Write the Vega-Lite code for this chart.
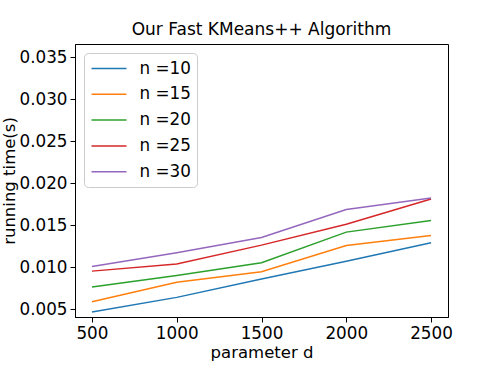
{
  "$schema": "https://vega.github.io/schema/vega-lite/v6.json",
  "width": 373,
  "height": 273,
  "autosize": {"type": "none"},
  "padding": {"left": 75, "top": 44, "right": 50, "bottom": 57},
  "background": "white",
  "config": {
    "font": "DejaVu Sans",
    "view": {"stroke": "black", "strokeWidth": 1},
    "axis": {"grid": false, "domainColor": "black", "tickColor": "black", "labelColor": "black", "titleColor": "black", "labelFontSize": 16.8, "titleFontSize": 16.5, "titleFontWeight": "normal", "tickSize": 5, "labelPadding": 3, "labelFont": "DejaVu Sans", "titleFont": "DejaVu Sans"}
  },
  "title": {"text": "Our Fast KMeans++ Algorithm", "fontSize": 17, "fontWeight": "normal", "font": "DejaVu Sans", "offset": 5, "color": "black"},
  "data": {"values": [
    {"d": 500, "n": "n =10", "t": 0.00464},
    {"d": 1000, "n": "n =10", "t": 0.00639},
    {"d": 1500, "n": "n =10", "t": 0.00857},
    {"d": 2000, "n": "n =10", "t": 0.01071},
    {"d": 2500, "n": "n =10", "t": 0.01289},
    {"d": 500, "n": "n =15", "t": 0.00587},
    {"d": 1000, "n": "n =15", "t": 0.00818},
    {"d": 1500, "n": "n =15", "t": 0.00944},
    {"d": 2000, "n": "n =15", "t": 0.01258},
    {"d": 2500, "n": "n =15", "t": 0.01377},
    {"d": 500, "n": "n =20", "t": 0.00762},
    {"d": 1000, "n": "n =20", "t": 0.00901},
    {"d": 1500, "n": "n =20", "t": 0.01051},
    {"d": 2000, "n": "n =20", "t": 0.01417},
    {"d": 2500, "n": "n =20", "t": 0.01556},
    {"d": 500, "n": "n =25", "t": 0.00952},
    {"d": 1000, "n": "n =25", "t": 0.01036},
    {"d": 1500, "n": "n =25", "t": 0.01262},
    {"d": 2000, "n": "n =25", "t": 0.01512},
    {"d": 2500, "n": "n =25", "t": 0.01813},
    {"d": 500, "n": "n =30", "t": 0.01008},
    {"d": 1000, "n": "n =30", "t": 0.0117},
    {"d": 1500, "n": "n =30", "t": 0.01354},
    {"d": 2000, "n": "n =30", "t": 0.01687},
    {"d": 2500, "n": "n =30", "t": 0.01825}
  ]},
  "mark": {"type": "line", "strokeWidth": 1.5, "clip": true},
  "encoding": {
    "x": {"field": "d", "type": "quantitative", "title": "parameter d",
      "scale": {"domain": [400, 2600], "nice": false, "zero": false},
      "axis": {"values": [500, 1000, 1500, 2000, 2500], "format": "d", "titlePadding": 3}},
    "y": {"field": "t", "type": "quantitative", "title": "running time(s)",
      "scale": {"domain": [0.00405, 0.0366], "nice": false, "zero": false},
      "axis": {"values": [0.005, 0.01, 0.015, 0.02, 0.025, 0.03, 0.035], "format": ".3f", "titlePadding": 1}},
    "color": {"field": "n", "type": "nominal", "title": null,
      "scale": {"domain": ["n =10", "n =15", "n =20", "n =25", "n =30"], "range": ["#1f77b4", "#ff7f0e", "#2ca02c", "#d62728", "#9467bd"]},
      "legend": {"orient": "top-left", "offset": 8.5, "symbolType": "M-2,0H2", "symbolSize": 306, "symbolStrokeWidth": 1.5, "symbolOffset": 9.5, "labelFontSize": 16.8, "labelFont": "DejaVu Sans", "labelColor": "black", "labelOffset": 21, "rowPadding": 6.8, "padding": 6, "strokeColor": "#cccccc", "fillColor": "white", "cornerRadius": 4}}
  }
}
